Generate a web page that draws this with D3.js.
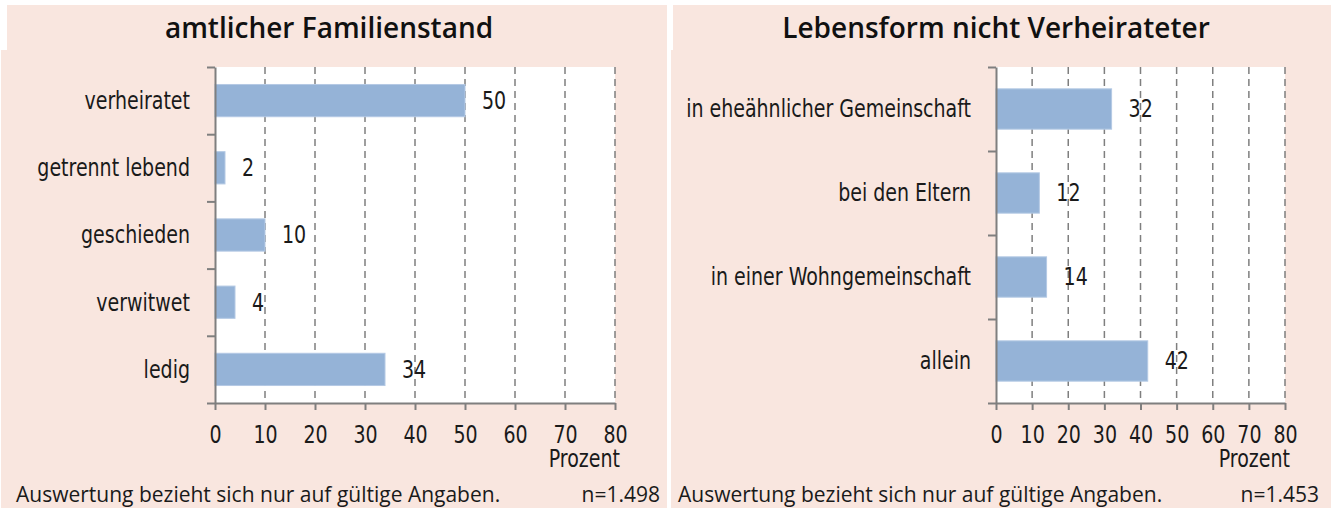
<!DOCTYPE html>
<html>
<head>
<meta charset="utf-8">
<script src="https://d3js.org/d3.v7.min.js"></script>
<style>
  body { margin: 0; background: #fff; }
  .lab { font-family: "Liberation Sans Narrow", "Arial Narrow", "DejaVu Sans Condensed", sans-serif; font-size: 24px; fill: #1a1a1a; }
  .title { font-family: "Open Sans", sans-serif; font-size: 28px; font-weight: 600; fill: #111; }
  .foot { font-family: "Open Sans", sans-serif; font-size: 21px; fill: #1a1a1a; }
</style>
</head>
<body>
<svg width="1335" height="508"></svg>
<script>
// data
const leftTitle = "amtlicher Familienstand";
const leftCats = ["verheiratet", "getrennt lebend", "geschieden", "verwitwet", "ledig"];
const leftVals = [50, 2, 10, 4, 34];
const leftN = "n=1.498";

const rightTitle = "Lebensform nicht Verheirateter";
const rightCats = ["in eheähnlicher Gemeinschaft", "bei den Eltern", "in einer Wohngemeinschaft", "allein"];
const rightVals = [32, 12, 14, 42];
const rightN = "n=1.453";

const xTicks = [0, 10, 20, 30, 40, 50, 60, 70, 80];
const unitLabel = "Prozent";
const footNote = "Auswertung bezieht sich nur auf gültige Angaben.";

const svg = d3.select("svg");
const pink = "#f9e6df";
const grey = "#7f7f7f";

function panel(o) {
  // background: title strip + body
  svg.append("rect").attr("x", o.px0 + o.tInset).attr("y", 5)
    .attr("width", o.px1 - o.px0 - o.tInset).attr("height", 46).attr("fill", pink);
  svg.append("rect").attr("x", o.px0).attr("y", 50)
    .attr("width", o.px1 - o.px0).attr("height", 458).attr("fill", pink);

  svg.append("text").attr("class", "title")
    .attr("x", (o.px0 + o.px1) / 2 - 5).attr("y", 38)
    .attr("text-anchor", "middle").text(o.title);

  const top = 67, bottom = 403;
  const x = d3.scaleLinear().domain([0, 80]).range([o.x0, o.x1]);
  const y = d3.scaleBand().domain(o.cats).range([top, bottom]);

  const g = svg.append("g");
  g.append("rect").attr("x", o.x0).attr("y", top)
    .attr("width", o.x1 - o.x0).attr("height", bottom - top).attr("fill", "#fff");

  // dashed gridlines
  g.selectAll("line.grid").data(xTicks.filter(d => d > 0)).enter()
    .append("line").attr("class", "grid")
    .attr("x1", d => x(d)).attr("x2", d => x(d))
    .attr("y1", top).attr("y2", bottom)
    .attr("stroke", grey).attr("stroke-width", 1.5).attr("stroke-dasharray", "7,5");

  // bars
  const bh = y.bandwidth() * 0.48;
  g.selectAll("rect.bar").data(o.vals).enter()
    .append("rect").attr("class", "bar")
    .attr("x", x(0))
    .attr("y", (d, i) => y(o.cats[i]) + (y.bandwidth() - bh) / 2)
    .attr("width", d => x(d) - x(0))
    .attr("height", bh)
    .attr("fill", "#95b3d7").attr("stroke", "#b4c9e4").attr("stroke-width", 1);

  // value labels
  g.selectAll("text.val").data(o.vals).enter()
    .append("text").attr("class", "lab")
    .attr("x", d => x(d) + 17)
    .attr("y", (d, i) => y(o.cats[i]) + y.bandwidth() / 2)
    .attr("dy", "0.35em").text(d => d);

  // category labels
  g.selectAll("text.cat").data(o.cats).enter()
    .append("text").attr("class", "lab")
    .attr("x", o.x0 - 25)
    .attr("y", d => y(d) + y.bandwidth() / 2)
    .attr("dy", "0.35em").attr("text-anchor", "end").text(d => d);

  // x axis
  const xa = g.append("g").attr("transform", "translate(0," + bottom + ")")
    .call(d3.axisBottom(x).tickValues(xTicks).tickSize(7).tickSizeOuter(0).tickPadding(16));
  xa.attr("font-family", null).attr("font-size", null);
  xa.select(".domain").attr("stroke", grey).attr("stroke-width", 2);
  xa.selectAll(".tick line").attr("stroke", grey).attr("stroke-width", 2);
  xa.selectAll(".tick text").attr("class", "lab").attr("fill", null);

  // y axis: ticks at band boundaries
  const yb = d3.scaleLinear().domain([0, o.cats.length]).range([top, bottom]);
  const ya = g.append("g").attr("transform", "translate(" + o.x0 + ",0)")
    .call(d3.axisLeft(yb).ticks(o.cats.length).tickSize(8).tickSizeOuter(0).tickFormat(""));
  ya.select(".domain").attr("stroke", grey).attr("stroke-width", 2);
  ya.selectAll(".tick line").attr("stroke", grey).attr("stroke-width", 2);

  g.append("text").attr("class", "lab")
    .attr("x", o.x1 + 5).attr("y", 467).attr("text-anchor", "end").text(unitLabel);

  svg.append("text").attr("class", "foot")
    .attr("x", o.px0 + o.fIn).attr("y", 502).text(footNote);
  svg.append("text").attr("class", "foot")
    .attr("x", o.px1 - o.fOut).attr("y", 502).attr("text-anchor", "end").text(o.n);
}

panel({ px0: 1, px1: 667, tInset: 6, x0: 215, x1: 615, fIn: 15, fOut: 7,
        title: leftTitle, cats: leftCats, vals: leftVals, n: leftN });
panel({ px0: 671, px1: 1331, tInset: 2, x0: 996, x1: 1285, fIn: 7, fOut: 12,
        title: rightTitle, cats: rightCats, vals: rightVals, n: rightN });

// the original uses a narrow face: squeeze the label glyphs horizontally
svg.selectAll("text.lab").each(function () {
  const w = this.getComputedTextLength();
  d3.select(this).attr("textLength", w * 0.88).attr("lengthAdjust", "spacingAndGlyphs");
});
</script>
</body>
</html>
